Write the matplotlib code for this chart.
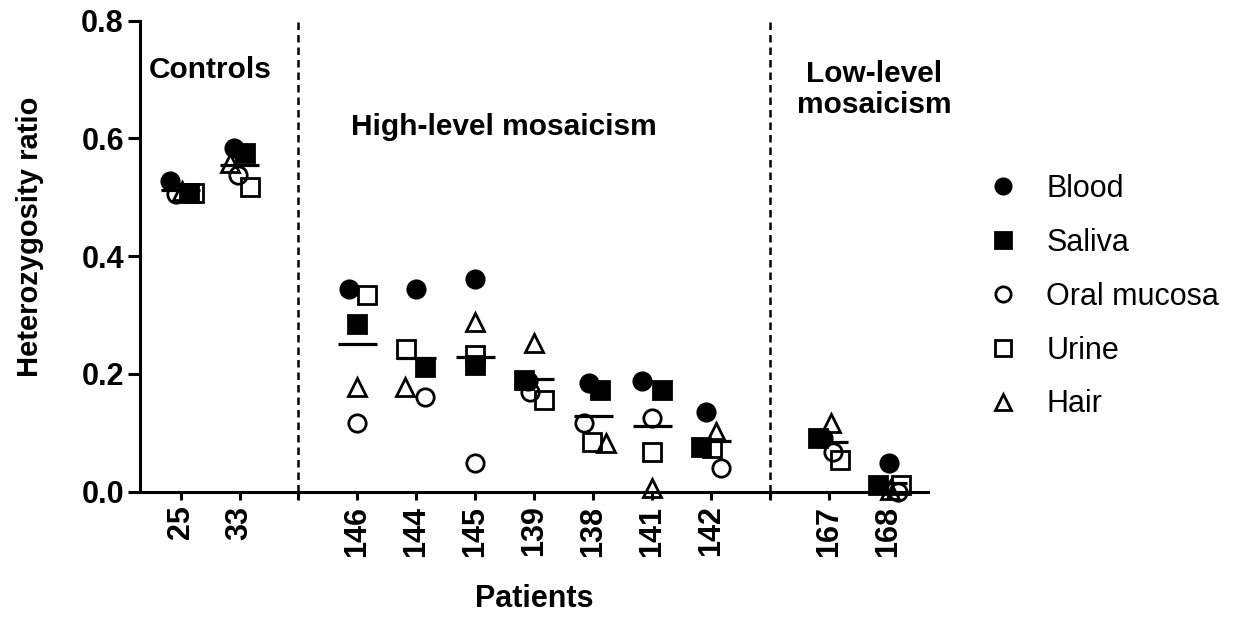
import numpy as np
import matplotlib.pyplot as plt
from matplotlib.lines import Line2D

plt.rcParams['font.family'] = ['Liberation Sans', 'DejaVu Sans']

# patients in each group, in plotting order
controls = ['25', '33']
high_level = ['146', '144', '145', '139', '138', '141', '142']
low_level = ['167', '168']

# heterozygosity ratio per sample type (same order as patients)
blood = [0.528, 0.583, 0.345, 0.344, 0.361, 0.188, 0.184, 0.188, 0.136, 0.092, 0.049]
saliva = [0.508, 0.575, 0.285, 0.212, 0.215, 0.190, 0.173, 0.173, 0.076, 0.091, 0.011]
oral_mucosa = [0.506, 0.538, 0.116, 0.160, 0.048, 0.170, 0.117, 0.125, 0.040, 0.068, 0.000]
urine = [0.507, 0.518, 0.334, 0.243, 0.232, 0.156, 0.085, 0.068, 0.074, 0.054, 0.011]
hair = [0.510, 0.558, 0.178, 0.178, 0.289, 0.252, 0.082, 0.006, 0.102, 0.116, 0.003]

# horizontal scatter of the points around each patient's slot (style only)
blood_dx = [-0.18, -0.10, -0.15, 0.0, 0.0, -0.10, -0.07, -0.18, -0.08, -0.10, 0.02]
saliva_dx = [0.14, 0.10, 0.0, 0.15, 0.0, -0.17, 0.12, 0.16, -0.17, -0.19, -0.17]
oral_dx = [-0.08, -0.02, 0.0, 0.15, 0.0, -0.08, -0.16, 0.0, 0.17, 0.07, 0.17]
urine_dx = [0.22, 0.17, 0.17, -0.17, 0.0, 0.17, -0.02, 0.0, 0.02, 0.18, 0.23]
hair_dx = [0.02, -0.16, 0.0, -0.19, 0.0, 0.0, 0.21, 0.0, 0.08, 0.04, 0.03]

patients = controls + high_level + low_level

# x slots: one per patient, an empty slot between groups
pos = []
x = 1
for grp in (controls, high_level, low_level):
    for _ in grp:
        pos.append(x)
        x += 1
    x += 1
pos = np.array(pos, dtype=float)
dividers = [len(controls) + 1, len(controls) + len(high_level) + 2]

fig = plt.figure(figsize=(12.45, 6.17), dpi=100)
ax = fig.add_axes([0.1124, 0.2031, 0.633, 0.7634])

series = [
    ('Blood', blood, blood_dx, 'o', 'k'),
    ('Saliva', saliva, saliva_dx, 's', 'k'),
    ('Oral mucosa', oral_mucosa, oral_dx, 'o', 'none'),
    ('Urine', urine, urine_dx, 's', 'none'),
    ('Hair', hair, hair_dx, '^', 'none'),
]

handles = []
for name, vals, dx, mk, fc in series:
    ax.plot(pos + np.array(dx), vals, linestyle='none', marker=mk, markersize=12.5,
            markerfacecolor=fc, markeredgecolor='k', markeredgewidth=2.0, clip_on=False)
    handles.append(Line2D([], [], linestyle='none', marker=mk, markersize=11,
                          markerfacecolor=fc, markeredgecolor='k', markeredgewidth=2.0,
                          label=name))

means = np.mean([blood, saliva, oral_mucosa, urine, hair], axis=0)
ax.hlines(means, pos - 0.33, pos + 0.33, colors='k', linewidth=2.3)

for d in dividers:
    ax.axvline(d, color='k', linestyle=(0, (3, 2)), linewidth=1.8, clip_on=False)

ax.set_xlim(0.31, 13.68)
ax.set_ylim(0, 0.8)
ax.set_yticks([0.0, 0.2, 0.4, 0.6, 0.8])
ax.set_yticklabels(['0.0', '0.2', '0.4', '0.6', '0.8'], fontsize=22, fontweight='bold')

ticks = list(pos) + dividers
labels = patients + ['', '']
ax.set_xticks(ticks)
ax.set_xticklabels(labels, rotation=90, fontsize=22, fontweight='bold')

for s in ['top', 'right']:
    ax.spines[s].set_visible(False)
for s in ['left', 'bottom']:
    ax.spines[s].set_linewidth(2.2)
ax.tick_params(axis='y', length=8.5, width=2.2, pad=3)
ax.tick_params(axis='x', length=6, width=2.2, pad=4)

ax.set_ylabel('Heterozygosity ratio', fontsize=21, fontweight='bold')
ax.yaxis.set_label_coords(-0.122, 0.541)
ax.set_xlabel('Patients', fontsize=22, fontweight='bold', labelpad=20)

ax.text(1.51, 0.716, 'Controls', ha='center', va='center', fontsize=21.5, fontweight='bold')
ax.text(6.48, 0.619, 'High-level mosaicism', ha='center', va='center', fontsize=21.5,
        fontweight='bold')
ax.text(12.77, 0.683, 'Low-level\nmosaicism', ha='center', va='center', fontsize=21.5,
        fontweight='bold', linespacing=1.15)

ax.legend(handles=handles, loc='center left', bbox_to_anchor=(0.7937, 0.519),
          bbox_transform=fig.transFigure, frameon=False, fontsize=22,
          handlelength=1.0, handletextpad=0.9, labelspacing=0.78,
          borderpad=0, borderaxespad=0)

fig.savefig('out.png', dpi=100)
